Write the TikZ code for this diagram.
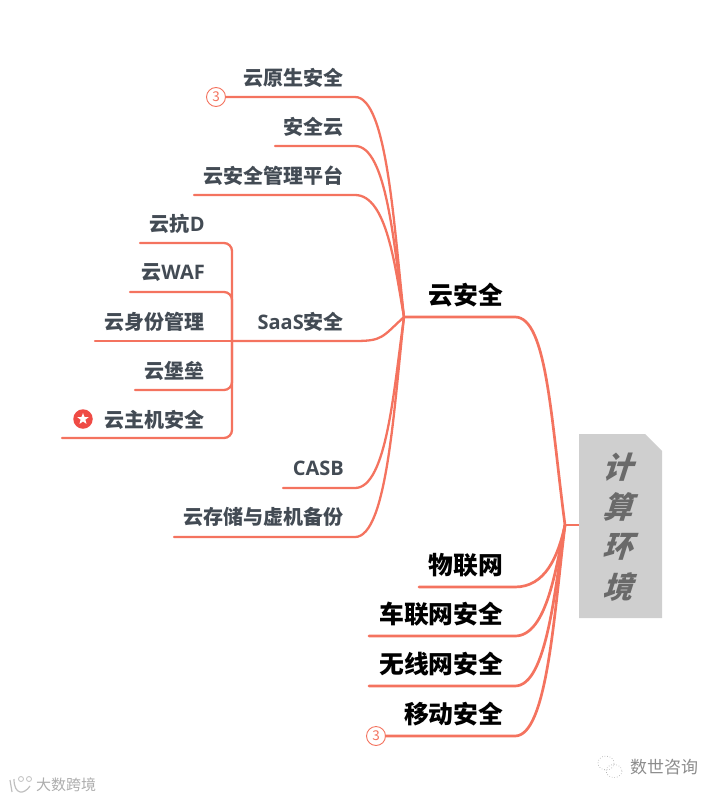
\documentclass[tikz,border=0pt]{standalone}
\usepackage{fontspec}
\setmainfont{Noto Sans CJK SC}
\newfontfamily\cjkslant[BoldFeatures={FakeSlant=0.32}]{Noto Sans CJK SC}
\newfontfamily\latn{Open Sans}
\usetikzlibrary{shapes.geometric}
\definecolor{linkc}{HTML}{F4735F}
\definecolor{inkc}{HTML}{434B54}
\definecolor{rootbg}{HTML}{CFCFCF}
\definecolor{rootink}{HTML}{6A6A6A}
\definecolor{starc}{HTML}{EF4B45}
\tikzset{
  x=1pt,y=-1pt,
  link/.style={draw=linkc,line width=2.3pt,line cap=round},
  biglink/.style={draw=linkc,line width=2.7pt,line cap=round},
  sub/.style={inner sep=0pt,anchor=east,text=inkc,font=\fontsize{20}{24}\selectfont\bfseries},
  top/.style={inner sep=0pt,anchor=east,text=black,font=\fontsize{24.8}{28}\selectfont\bfseries},
  count/.style={circle,draw=linkc,fill=white,line width=0.9pt,minimum size=19pt,inner sep=0pt,text=linkc,font=\fontsize{13.5}{15}\selectfont},
  rootch/.style={inner sep=0pt,text=rootink,font=\fontsize{30}{34}\cjkslant\bfseries},
  mark1/.style={inner sep=0pt,text=black!32,font=\fontsize{15}{18}\selectfont},
  mark2/.style={inner sep=0pt,text=black!45,font=\fontsize{17}{20}\selectfont},
}
\begin{document}
\begin{tikzpicture}
\useasboundingbox (0,0) rectangle (725,800);
% hubs
\coordinate (hubA) at (404,317);
\coordinate (hubR) at (565,525);
\coordinate (hubS) at (232,341);
% root
\path[fill=rootbg] (579,434) -- (645,434) -- (662,451) -- (662,618) -- (579,618) -- cycle;
\coordinate (rootL) at (579,525);
\node[rootch] (r1) at (617,467) {计};
\node[rootch] (r2) at (617,507) {算};
\node[rootch] (r3) at (617,547) {环};
\node[rootch] (r4) at (617,587) {境};
\draw[biglink,line cap=butt] (hubR) -- (rootL);
% top-level
\coordinate (tA) at (515,317); \coordinate (lA) at (404,317);
\coordinate (tB) at (515,587); \coordinate (lB) at (419,587);
\coordinate (tC) at (515,636); \coordinate (lC) at (369,636);
\coordinate (tD) at (515,686); \coordinate (lD) at (369,686);
\coordinate (tE) at (515,736);
\node[top] (nA) at (503.5,295) {云安全};
\node[top] (nB) at (503.5,565) {物联网};
\node[top] (nC) at (503.5,614.5) {车联网安全};
\node[top] (nD) at (503.5,664.5) {无线网安全};
\node[top] (nE) at (503.5,714.5) {移动安全};
\node[count] (cE) at (376,736) {3};
\draw[biglink] (lA) -- (tA) .. controls +(32,0) and +(-14,-105) .. (hubR);
\draw[biglink] (lB) -- (tB) .. controls +(30,0) and +(-7,32) .. (hubR);
\draw[biglink] (lC) -- (tC) .. controls +(32,0) and +(-9,42) .. (hubR);
\draw[biglink] (lD) -- (tD) .. controls +(32,0) and +(-10,62) .. (hubR);
\draw[biglink] (cE) -- (tE) .. controls +(32,0) and +(-11,90) .. (hubR);
% second level
\coordinate (t1) at (355,97);
\coordinate (t2) at (355,146); \coordinate (l2) at (275,146);
\coordinate (t3) at (355,195); \coordinate (l3) at (194,195);
\coordinate (t4) at (355,341);
\coordinate (t5) at (355,488); \coordinate (l5) at (283,488);
\coordinate (t6) at (355,537); \coordinate (l6) at (174,537);
\node[sub] (n1) at (344,78) {云原生安全};
\node[sub] (n2) at (344,127) {安全云};
\node[sub] (n3) at (344,176) {云安全管理平台};
\node[sub] (n4) at (344,322) {{\latn SaaS}安全};
\node[sub] (n5) at (344,468) {{\latn CASB}};
\node[sub] (n6) at (344,517) {云存储与虚机备份};
\node[count] (c1) at (216,97) {3};
\draw[link] (c1) -- (t1) .. controls +(32,0) and +(-10,-90) .. (hubA);
\draw[link] (l2) -- (t2) .. controls +(32,0) and +(-10,-70) .. (hubA);
\draw[link] (l3) -- (t3) .. controls +(32,0) and +(-9,-50) .. (hubA);
\draw[link] (hubS) -- (t4) .. controls +(28,0) and +(-22,20) .. (hubA);
\draw[link] (l5) -- (t5) .. controls +(32,0) and +(-10,70) .. (hubA);
\draw[link] (l6) -- (t6) .. controls +(32,0) and +(-10,90) .. (hubA);
% third level
\coordinate (a1) at (140,243); \coordinate (b1) at (232,243);
\coordinate (a2) at (130,292); \coordinate (b2) at (232,292);
\coordinate (a3) at (95,341);
\coordinate (a4) at (135,390); \coordinate (b4) at (232,390);
\coordinate (a5) at (62,438); \coordinate (b5) at (232,438);
\node[sub] (s1) at (205,224) {云抗{\latn D}};
\node[sub] (s2) at (205,273) {云{\latn WAF}};
\node[sub] (s3) at (205,322) {云身份管理};
\node[sub] (s4) at (205,371) {云堡垒};
\node[sub] (s5) at (205,419.5) {云主机安全};
\draw[link,rounded corners=8pt] (a1) -- (b1) -- (hubS);
\draw[link,rounded corners=8pt] (a2) -- (b2) -- (hubS);
\draw[link] (a3) -- (hubS);
\draw[link,rounded corners=8pt] (a4) -- (b4) -- (hubS);
\draw[link,rounded corners=8pt] (a5) -- (b5) -- (hubS);
% star badge
\node[circle,fill=starc,minimum size=19.5pt,inner sep=0pt] (badge) at (83,419) {};
\node[star,star points=5,star point ratio=2.4,fill=white,minimum size=12pt,inner sep=0pt] (badgeStar) at (badge) {};
% watermarks
\node[mark1,anchor=west] (wm1) at (36,785) {大数跨境};
\draw[black!25,line width=1.2pt] (10,780) -- (12,792) (14,779) .. controls (14,795) and (24,795) .. (30,786);
\draw[black!25,line width=0.8pt] (21,779) circle (2.5) (29,779) circle (2.5);
\node[mark2,anchor=west] (wm2) at (630,767) {数世咨询};
\draw[black!40,line width=0.6pt,dotted] (606,763) ellipse (8 and 7);
\draw[black!40,line width=0.6pt,dotted] (614,771) ellipse (8 and 6.5);
\end{tikzpicture}
\end{document}
